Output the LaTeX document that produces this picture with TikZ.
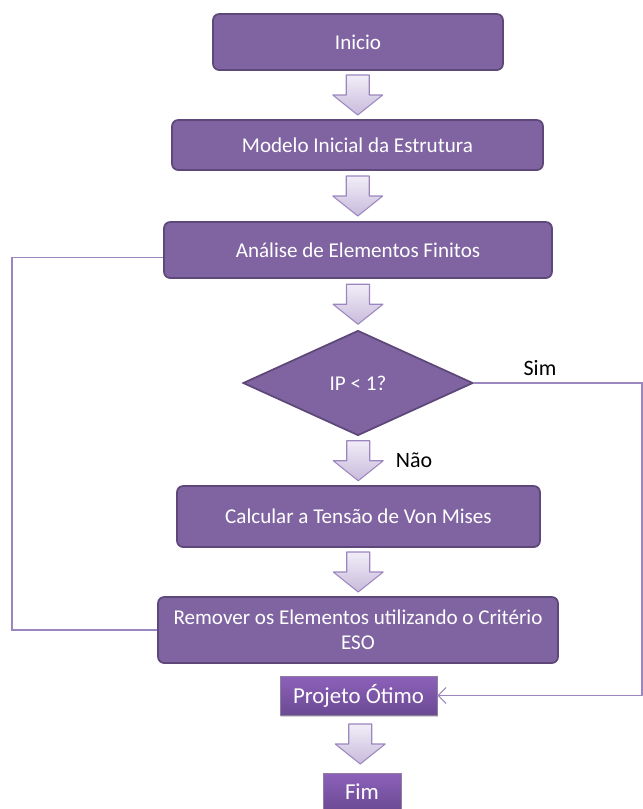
\documentclass[tikz,border=0pt]{standalone}
\usepackage{fontspec}
\setmainfont{Carlito}
\usepackage{tikz}
\usepackage{xcolor}
\definecolor{FlowPurple}{HTML}{8064A2}
\definecolor{FlowBorder}{HTML}{5E4879}
\definecolor{FlowLine}{HTML}{9C86BF}
\definecolor{FlowArrowTop}{HTML}{F1EDF7}
\definecolor{FlowArrowBot}{HTML}{C8BBDC}
\definecolor{FlowEndTop}{HTML}{8D61BA}
\definecolor{FlowEndBot}{HTML}{6A4A93}
\usetikzlibrary{positioning,calc,shapes.geometric,arrows.meta,shadows}
% fat down arrow half way between two named nodes
\newcommand{\flowarrow}[2]{%
  \coordinate (m-#1) at ($(#1.south)!0.5!(#2.north)$);
  \draw[downarrow] ([shift={(-11.5,-20)}]m-#1) -- ++(23,0) -- ++(0,20) -- ++(13.5,0)
    -- ++(-25,20) -- ++(-25,-20) -- ++(13.5,0) -- cycle;}

\begin{document}
\begin{tikzpicture}[x=0.02cm,y=-0.02cm,
    procbox/.style={draw=FlowBorder, line width=1pt, fill=FlowPurple, rounded corners=3.5pt,
      text=white, font=\fontsize{12}{14}\selectfont, align=center, inner sep=2pt},
    testbox/.style={diamond, draw=FlowBorder, line width=1pt, fill=FlowPurple,
      text=white, font=\fontsize{12}{14}\selectfont, inner sep=0pt},
    endbox/.style={draw=FlowBorder!70, line width=0.4pt, top color=FlowEndTop, bottom color=FlowEndBot,
      text=white, font=\fontsize{13}{15}\selectfont, inner sep=2pt,
      drop shadow={shadow xshift=0.6pt, shadow yshift=-1pt, opacity=0.35}},
    downarrow/.style={draw=FlowLine, line width=0.6pt, line join=round,
      top color=FlowArrowTop, bottom color=FlowArrowBot},
    loopline/.style={draw=FlowLine, line width=0.6pt},
    tag/.style={font=\fontsize{12.5}{14}\selectfont}]
  \useasboundingbox (0,0) rectangle (643,809);
  % boxes
  \node[procbox, minimum width=5.8cm, minimum height=1.12cm] (inicio) at (358,42) {Inicio};
  \node[procbox, minimum width=7.42cm, minimum height=1.0cm] (modelo) at (357.5,145) {Modelo Inicial da Estrutura};
  \node[procbox, minimum width=7.76cm, minimum height=1.12cm] (analise) at (358,250) {Análise de Elementos Finitos};
  \node[testbox, minimum width=4.6cm, minimum height=2.1cm] (decisao) at (358,383) {IP < 1?};
  \node[procbox, minimum width=7.26cm, minimum height=1.22cm] (calcular) at (358.5,516.5) {Calcular a Tensão de Von Mises};
  \node[procbox, minimum width=8.0cm, minimum height=1.32cm] (remover) at (358,630)
    {Remover os Elementos utilizando o Critério\\ESO};
  \node[endbox, minimum width=3.14cm, minimum height=0.78cm] (projeto) at (358.5,695.5) {Projeto Ótimo};
  \node[endbox, minimum width=1.56cm, minimum height=0.76cm] (fim) at (362,792) {Fim};
  % block arrows
  \flowarrow{inicio}{modelo}
  \flowarrow{modelo}{analise}
  \flowarrow{analise}{decisao}
  \flowarrow{decisao}{calcular}
  \flowarrow{calcular}{remover}
  \flowarrow{projeto}{fim}
  % loop back and exit
  \coordinate (voltaL) at (12,0);
  \coordinate (saidaR) at (642,383);
  \coordinate (entra) at ([yshift=-4pt]analise.west);
  \draw[loopline] (entra) -- (entra -| voltaL) |- (remover.west);
  \draw[loopline, -{Straight Barb[length=1.6mm, width=3.2mm]}] (decisao.east) -- (saidaR) |- (projeto.east);
  \node[tag] (sim) at (540,368) {Sim};
  \node[tag] (nao) at (414,460) {Não};
\end{tikzpicture}
\end{document}
